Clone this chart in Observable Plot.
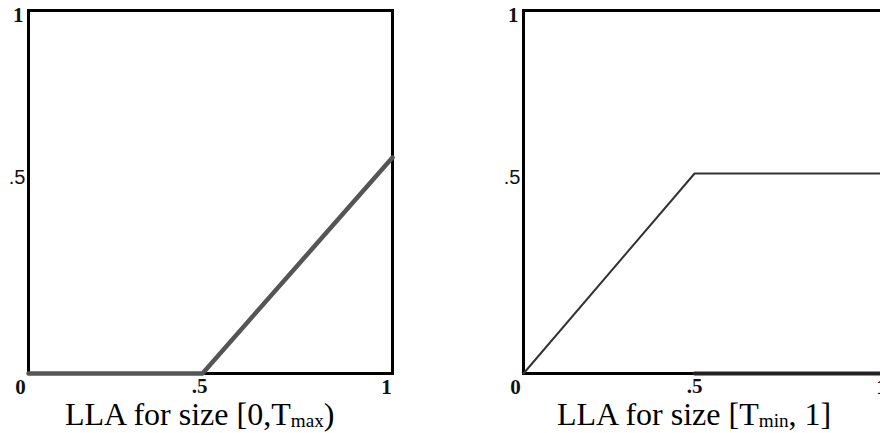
<!DOCTYPE html>
<html>
<head>
<meta charset="utf-8">
<script src="https://cdn.jsdelivr.net/npm/d3@7"></script>
<script src="https://cdn.jsdelivr.net/npm/@observablehq/plot@0.6"></script>
<style>
  html, body { margin: 0; padding: 0; background: #fff; }
  #wrap { position: relative; width: 880px; height: 433px; overflow: hidden; background: #fff; }
  .panel { position: absolute; top: 0; }
  .cap { position: absolute; top: 401px; font-family: "Liberation Serif", "Times New Roman", serif;
         font-size: 32px; line-height: 26px; color: #000; white-space: nowrap; }
  .cap sub { font-size: 0.6em; vertical-align: -0.08em; line-height: 0; }
</style>
</head>
<body>
<div id="wrap"></div>
<script>
// Data (box-normalized coordinates, 0..1 on both axes)
const leftX = [0, 0.478, 1];
const leftY = [0, 0, 0.595];
const rightX = [0, 0.47, 1];
const rightY = [0, 0.551, 0.551];
const rightBaseX = [0.47, 1];
const rightBaseY = [0, 0];
const xTickVals = [0.47, 1];
const xTickLabels = [".5", "1"];
const yTickVals = [0.54, 1];
const yTickLabels = [".5", "1"];
const originLabel = "0";
const captions = [
  {main: "LLA for size [0,T", sub: "max", tail: ")"},
  {main: "LLA for size [T", sub: "min", tail: ", 1]"}
];

const serifBold = {fontFamily: "Liberation Serif", fontWeight: "bold", fontSize: 21, fill: "#111"};

function panel(lineMarks) {
  const xt = xTickVals.map((v, i) => ({v, label: xTickLabels[i]}));
  const yt = yTickVals.map((v, i) => ({v, label: yTickLabels[i]}));
  return Plot.plot({
    width: 440, height: 390,
    marginLeft: 28, marginRight: 48, marginTop: 10, marginBottom: 17,
    x: {domain: [0, 1], axis: null},
    y: {domain: [0, 1], axis: null},
    style: {background: "transparent", overflow: "visible"},
    marks: [
      Plot.frame({stroke: "#000", strokeWidth: 3}),
      ...lineMarks,
      // x tick labels
      Plot.text(xt.filter(d => d.label === ".5"), {x: "v", y: () => 0, text: "label", dy: 13, ...serifBold}),
      Plot.text(xt.filter(d => d.label === "1"), {x: "v", y: () => 0, text: "label", dx: -6, dy: 14, ...serifBold}),
      // y tick labels
      Plot.text(yt.filter(d => d.label === ".5"), {x: () => 0, y: "v", text: "label", dx: -3, dy: 0, textAnchor: "end",
        fontFamily: "Liberation Sans", fontSize: 20, fill: "#111"}),
      Plot.text(yt.filter(d => d.label === "1"), {x: () => 0, y: "v", text: "label", dx: -5, dy: 5, textAnchor: "end", ...serifBold}),
      // origin label
      Plot.text([originLabel], {x: () => 0, y: () => 0, text: d => d, dx: -8, dy: 14, ...serifBold})
    ]
  });
}

const left = panel([
  Plot.line(leftX.map((x, i) => ({x, y: leftY[i]})), {x: "x", y: "y", stroke: "#555", strokeWidth: 4.5})
]);
const right = panel([
  Plot.line(rightBaseX.map((x, i) => ({x, y: rightBaseY[i]})), {x: "x", y: "y", stroke: "#222", strokeWidth: 4}),
  Plot.line(rightX.map((x, i) => ({x, y: rightY[i]})), {x: "x", y: "y", stroke: "#333", strokeWidth: 2})
]);

const wrap = document.getElementById("wrap");
left.classList.add("panel"); left.style.left = "0px";
right.classList.add("panel"); right.style.left = "495px";
wrap.appendChild(left);
wrap.appendChild(right);

const capLefts = [65, 557];
captions.forEach((c, i) => {
  const d = document.createElement("div");
  d.className = "cap";
  d.style.left = capLefts[i] + "px";
  d.appendChild(document.createTextNode(c.main));
  const s = document.createElement("sub");
  s.textContent = c.sub;
  d.appendChild(s);
  d.appendChild(document.createTextNode(c.tail));
  wrap.appendChild(d);
});
</script>
</body>
</html>
